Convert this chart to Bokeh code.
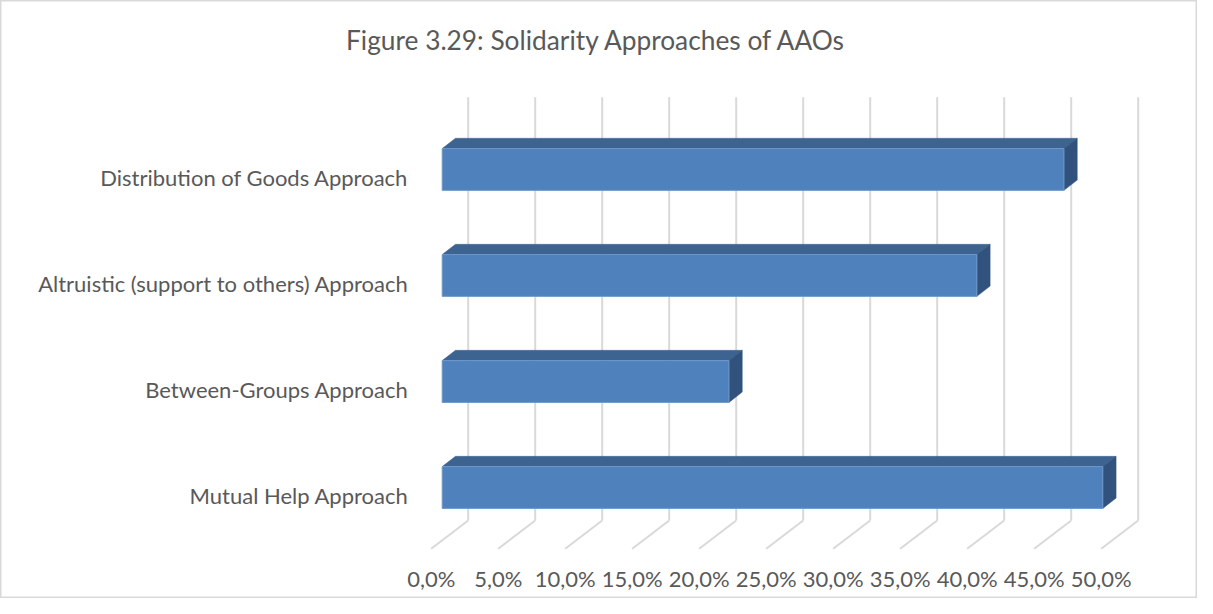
from bokeh.plotting import figure
from bokeh.models import Range1d
from bokeh.embed import file_html
from bokeh.resources import INLINE
from bokeh.core.properties import value

# ---- data ----
categories = ["Mutual Help Approach", "Between-Groups Approach",
              "Altruistic (support to others) Approach", "Distribution of Goods Approach"]
values = [49.3, 21.4, 39.9, 46.4]
tick_values = [0, 5, 10, 15, 20, 25, 30, 35, 40, 45, 50]
tick_labels = ["0,0%", "5,0%", "10,0%", "15,0%", "20,0%", "25,0%",
               "30,0%", "35,0%", "40,0%", "45,0%", "50,0%"]
title_text = "Figure 3.29: Solidarity Approaches of AAOs"

# ---- styling / geometry (in data units) ----
FONT = "Lato"
TXT = "#595959"
GRID = "#D9D9D9"
FRONT = "#4F81BD"
TOP = "#3D6390"
SIDE = "#31527D"

half_h = 0.197            # half thickness of bar front face (category units)
bdx, bdy = 0.99, 0.097    # bar depth offset
fdx, fdy = -0.821, -0.079 # bar front plane -> floor front plane
wdx, wdy = 1.94, 0.188    # bar front plane -> back wall
floor_front_y = -0.578
floor_back_y = floor_front_y + (wdy - fdy)
wall_top_y = 3.682

W, H = 1197, 598
p = figure(width=W, height=H, output_backend="svg", toolbar_location=None,
           x_range=Range1d(-32.963, 56.366), y_range=Range1d(-1.047, 4.594),
           min_border=0, outline_line_color="#D9D9D9", outline_line_width=2)
p.axis.visible = False
p.grid.visible = False
p.background_fill_color = "white"
p.border_fill_color = "white"

# gridlines: back wall verticals and floor diagonals
vx = [t + wdx for t in tick_values]
p.segment(x0=vx, y0=[floor_back_y] * len(vx), x1=vx, y1=[wall_top_y] * len(vx),
          line_color=GRID, line_width=2)
p.segment(x0=vx, y0=[floor_back_y] * len(vx),
          x1=[t + fdx for t in tick_values], y1=[floor_front_y] * len(vx),
          line_color=GRID, line_width=2)

# bars
ys = list(range(len(categories)))
top_xs = [[0, v, v + bdx, bdx] for v in values]
top_ys = [[y + half_h, y + half_h, y + half_h + bdy, y + half_h + bdy] for y in ys]
side_xs = [[v, v + bdx, v + bdx, v] for v in values]
side_ys = [[y - half_h, y - half_h + bdy, y + half_h + bdy, y + half_h] for y in ys]
p.patches(xs=top_xs, ys=top_ys, fill_color=TOP, line_color=TOP, line_width=0.5)
p.patches(xs=side_xs, ys=side_ys, fill_color=SIDE, line_color=SIDE, line_width=0.5)
p.quad(left=[0] * len(values), right=values,
       bottom=[y - half_h for y in ys], top=[y + half_h for y in ys],
       fill_color=FRONT, line_color="#6E97C8", line_width=1)

# category labels
p.text(x=[-2.515] * len(categories), y=[y + fdy for y in ys], text=categories,
       text_font=value(FONT), text_font_size="22px", text_color=TXT,
       text_align="right", text_baseline="middle")

# tick labels
p.text(x=[t + fdx for t in tick_values], y=[-0.858] * len(tick_values), text=tick_labels,
       text_font=value(FONT), text_font_size="22px", text_color=TXT,
       text_align="center", text_baseline="middle")

# title
p.text(x=[11.51], y=[4.225], text=[title_text],
       text_font=value(FONT), text_font_size="26.3px", text_color=TXT,
       text_align="center", text_baseline="middle")

open("out.html", "w").write(file_html(p, INLINE))
